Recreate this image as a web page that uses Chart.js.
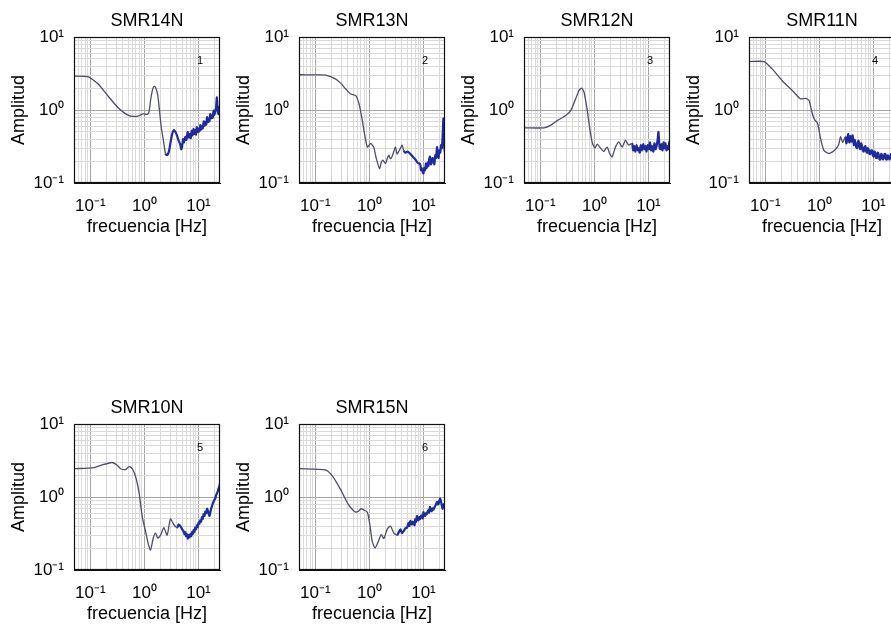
<!DOCTYPE html>
<html>
<head>
<meta charset="utf-8">
<script src="https://cdn.jsdelivr.net/npm/chart.js@4.4.1/dist/chart.umd.min.js"></script>
<style>
  html, body { margin: 0; padding: 0; background: #fff; overflow: hidden; }
  #page { position: relative; width: 891px; height: 629px; overflow: hidden; }
  #page canvas { position: absolute; }
</style>
</head>
<body>
<div id="page"></div>
<script>
// panel titles and the small index numbers in the corner
const stations = ['SMR14N', 'SMR13N', 'SMR12N', 'SMR11N', 'SMR10N', 'SMR15N'];
const panelNumbers = ['1', '2', '3', '4', '5', '6'];

// axis ticks (log-log, decades labelled)
const majorTicks = [0.1, 1, 10];
const majorLabels = ['10⁻¹', '10⁰', '10¹'];
const decades = [0.01, 0.1, 1, 10];
const mantissas = [1, 2, 3, 4, 5, 6, 7, 8, 9];
const xRange = [0.05, 25];
const yRange = [0.1, 10];

// spectra: frequency [Hz] / amplitude
const freq14 = [0.05, 0.09, 0.14, 0.21, 0.32, 0.42, 0.52, 0.62, 0.74, 0.86, 0.98, 1.13, 1.22, 1.30, 1.38, 1.46, 1.54, 1.62, 1.70, 1.78, 1.90, 2.05, 2.25, 2.45,
  2.6, 2.83, 3.05, 3.26, 3.5, 3.75, 4.0, 4.3, 4.6, 4.8, 4.97, 5.2, 5.4, 5.73, 6.0, 6.3, 6.6, 6.9, 7.2, 7.5, 7.8, 8.1, 8.4, 8.7, 9.0, 9.3, 9.7, 10, 10.4, 10.8,
  11.2, 11.6, 12.0, 12.5, 13.0, 13.4, 13.9, 14.4, 14.9, 15.4, 16.0, 16.5, 17.1, 17.7, 18.3, 19, 19.6, 20.3, 21.1, 21.9, 22.6, 23.4, 24.2, 25];
const amp14 = [2.92, 2.86, 2.27, 1.57, 1.09, 0.92, 0.84, 0.82, 0.82, 0.86, 0.89, 0.87, 0.95, 1.35, 1.75, 2.04, 2.1, 2.02, 1.8, 1.55, 1.0, 0.58, 0.38, 0.254,
  0.24, 0.267, 0.36, 0.47, 0.53, 0.50, 0.45, 0.38, 0.34, 0.29, 0.31, 0.40, 0.36, 0.43, 0.39, 0.50, 0.42, 0.47, 0.41, 0.52, 0.45, 0.55, 0.47, 0.53, 0.46, 0.58, 0.50, 0.55, 0.51, 0.62,
  0.54, 0.60, 0.56, 0.70, 0.61, 0.68, 0.63, 0.80, 0.68, 0.76, 0.70, 0.88, 0.77, 0.84, 0.78, 0.98, 0.86, 0.93, 1.05, 1.49, 1.0, 0.88, 1.1, 0.98];

const freq13 = [0.05, 0.1, 0.157, 0.24, 0.30, 0.366, 0.45, 0.56, 0.645, 0.74, 0.83, 0.92, 1.05, 1.13, 1.21, 1.34, 1.54, 1.65, 1.77, 1.99, 2.15, 2.29, 2.45, 2.63, 2.83, 3.03, 3.25, 3.49, 3.75, 4.03, 4.3, 4.63, 5.1, 5.73, 6.3, 7.08, 7.8,
  8.7, 9.0, 9.3, 9.7, 10, 10.3, 10.7, 11.1, 11.5, 11.9, 12.3, 12.7, 13.2, 13.7, 14.2, 14.7, 15.3, 15.9, 16.5, 17.1, 17.8, 18.4, 19, 19.7, 20.4, 21.1, 21.9, 22.7, 23.4, 24.2, 25];
const amp13 = [3.04, 3.02, 3.0, 2.65, 2.3, 1.94, 1.66, 1.57, 1.21, 0.72, 0.43, 0.31, 0.35, 0.33, 0.31, 0.217, 0.158, 0.19, 0.206, 0.185, 0.22, 0.24, 0.215, 0.23, 0.27, 0.31, 0.25, 0.27, 0.30, 0.33, 0.28, 0.26, 0.27, 0.25, 0.23, 0.21, 0.19,
  0.18, 0.15, 0.16, 0.14, 0.135, 0.16, 0.15, 0.185, 0.16, 0.19, 0.17, 0.21, 0.23, 0.18, 0.19, 0.22, 0.21, 0.18, 0.24, 0.22, 0.31, 0.24, 0.22, 0.28, 0.26, 0.33, 0.3, 0.47, 0.76, 0.32, 0.26];

const freq12 = [0.05, 0.118, 0.157, 0.208, 0.296, 0.366, 0.45, 0.52, 0.58, 0.645, 0.74, 0.83, 0.92, 1.02, 1.13, 1.30, 1.49, 1.72, 1.93, 2.13, 2.45, 2.83, 3.26, 3.75, 4.31,
  4.97, 5.2, 5.45, 5.73, 6.0, 6.3, 6.6, 6.9, 7.2, 7.6, 8.0, 8.4, 8.8, 9.2, 9.7, 10.2, 10.7, 11.2, 11.7, 12.3, 12.9, 13.5, 14.2, 14.8, 15.3, 16.0, 16.7, 17.4, 18.2, 19, 19.8, 20.6, 21.5, 22.4, 23.4, 24.2, 25];
const amp12 = [0.57, 0.57, 0.62, 0.72, 0.84, 0.98, 1.42, 1.84, 2.0, 1.75, 0.98, 0.53, 0.35, 0.30, 0.34, 0.30, 0.27, 0.31, 0.25, 0.228, 0.31, 0.365, 0.31, 0.385, 0.33,
  0.35, 0.28, 0.32, 0.27, 0.33, 0.28, 0.30, 0.26, 0.33, 0.28, 0.34, 0.29, 0.32, 0.27, 0.33, 0.29, 0.36, 0.28, 0.32, 0.27, 0.35, 0.29, 0.33, 0.40, 0.50, 0.31, 0.29, 0.34, 0.28, 0.36, 0.30, 0.35, 0.28, 0.32, 0.29, 0.36, 0.385];

const freq11 = [0.05, 0.095, 0.136, 0.208, 0.318, 0.45, 0.56, 0.645, 0.74, 0.83, 0.92, 1.05, 1.21, 1.49, 1.72, 1.99, 2.29, 2.45, 2.7,
  3.03, 3.15, 3.25, 3.4, 3.5, 3.6, 3.75, 3.85, 3.95, 4.1, 4.25, 4.35, 4.5, 4.63, 4.8, 5.0, 5.15, 5.3, 5.5, 5.7, 5.9, 6.1, 6.35, 6.6, 6.85, 7.08, 7.35, 7.6, 7.85, 8.1,
  8.4, 8.7, 9.0, 9.4, 9.7, 10.1, 10.4, 10.8, 11.2, 11.6, 12.0, 12.4, 12.9, 13.4, 13.9, 14.4, 15.0, 15.5, 16.0, 16.6, 17.2, 17.8, 18.4, 19, 19.7, 20.4, 21.1, 21.9, 22.6, 23.4, 24.2, 25];
const amp11 = [4.6, 4.6, 3.6, 2.5, 1.84, 1.42, 1.44, 1.35, 0.89, 0.72, 0.67, 0.41, 0.28, 0.254, 0.265, 0.29, 0.34, 0.43, 0.36,
  0.43, 0.35, 0.38, 0.47, 0.39, 0.36, 0.44, 0.40, 0.37, 0.45, 0.38, 0.33, 0.39, 0.36, 0.31, 0.30, 0.36, 0.38, 0.32, 0.29, 0.35, 0.33, 0.28, 0.27, 0.31, 0.32, 0.27, 0.26, 0.30, 0.29,
  0.25, 0.25, 0.28, 0.28, 0.24, 0.23, 0.27, 0.26, 0.22, 0.22, 0.26, 0.25, 0.21, 0.21, 0.25, 0.24, 0.21, 0.22, 0.25, 0.25, 0.21, 0.21, 0.24, 0.23, 0.21, 0.22, 0.25, 0.24, 0.21, 0.21, 0.24, 0.23];

const freq10 = [0.05, 0.118, 0.157, 0.25, 0.30, 0.366, 0.45, 0.52, 0.60, 0.70, 0.80, 0.92, 1.05, 1.17, 1.30, 1.46, 1.61, 1.77, 1.99, 2.29, 2.63, 3.03, 3.49,
  4.03, 4.3, 4.63, 5.0, 5.3, 5.5, 5.7, 5.9, 6.1, 6.35, 6.6, 6.85, 7.08, 7.35, 7.6, 7.85, 8.1, 8.4, 8.7, 9.0, 9.4, 9.7, 10.1, 10.4, 10.8, 11.2, 11.6, 12.0, 12.4, 12.9,
  13.4, 13.9, 14.4, 15.0, 15.5, 16.0, 16.6, 17.2, 17.8, 18.4, 19, 19.7, 20.4, 21.1, 21.9, 22.6, 23.4, 24.2, 25];
const amp10 = [2.44, 2.53, 2.72, 2.97, 2.8, 2.44, 2.38, 2.61, 2.44, 1.82, 1.12, 0.52, 0.34, 0.233, 0.187, 0.274, 0.32, 0.274, 0.30, 0.38, 0.30, 0.50, 0.42,
  0.38, 0.42, 0.40, 0.36, 0.34, 0.31, 0.33, 0.29, 0.31, 0.27, 0.30, 0.28, 0.31, 0.29, 0.33, 0.31, 0.35, 0.33, 0.38, 0.36, 0.41, 0.39, 0.45, 0.43, 0.48, 0.46, 0.53, 0.50, 0.58, 0.55,
  0.63, 0.60, 0.69, 0.64, 0.58, 0.55, 0.62, 0.70, 0.75, 0.82, 0.86, 0.92, 0.95, 1.05, 1.12, 1.18, 1.30, 1.38, 1.55];

const freq15 = [0.05, 0.157, 0.208, 0.296, 0.40, 0.48, 0.56, 0.63, 0.70, 0.80, 0.92, 1.02, 1.13, 1.27, 1.46, 1.65, 1.85, 2.13, 2.45, 2.83,
  3.26, 3.5, 3.75, 4.0, 4.31, 4.6, 4.97, 5.3, 5.5, 5.73, 6.1, 6.35, 6.6, 6.85, 7.08, 7.35, 7.6, 7.85, 8.1, 8.4, 8.7, 9.0, 9.3, 9.7, 10, 10.4, 10.7, 11.1, 11.5, 11.9,
  12.3, 12.7, 13.2, 13.7, 14.2, 14.7, 15.3, 15.9, 16.5, 17.1, 17.8, 18.4, 19, 19.7, 20.4, 21.4, 22.5, 23.7, 25];
const amp15 = [2.44, 2.34, 1.93, 1.25, 0.81, 0.68, 0.62, 0.64, 0.69, 0.66, 0.62, 0.42, 0.245, 0.20, 0.245, 0.305, 0.27, 0.36, 0.40, 0.32,
  0.30, 0.33, 0.36, 0.32, 0.34, 0.37, 0.38, 0.44, 0.40, 0.47, 0.42, 0.46, 0.45, 0.41, 0.50, 0.46, 0.55, 0.49, 0.48, 0.53, 0.50, 0.55, 0.56, 0.51, 0.62, 0.56, 0.55, 0.60, 0.58, 0.63,
  0.66, 0.61, 0.73, 0.66, 0.64, 0.70, 0.67, 0.72, 0.75, 0.80, 0.86, 0.79, 0.80, 0.90, 0.95, 0.82, 0.69, 0.80, 0.76];

const freqs = [freq14, freq13, freq12, freq11, freq10, freq15];
const amps = [amp14, amp13, amp12, amp11, amp10, amp15];
// frequency above which the trace turns into the dense blue band
const splitFreqs = [2.4, 4.3, 4.9, 3.0, 3.9, 3.2];

const FONT = '"Liberation Sans", Arial, sans-serif';
const SMOOTH_COLOR = '#4c4f66';
const NOISY_COLOR = '#1f2a9c';

function gridValues(range) {
  const vals = [];
  decades.forEach(d => mantissas.forEach(m => vals.push(+(d * m).toPrecision(6))));
  return vals.filter(v => v >= range[0] * 0.9999 && v <= range[1] * 1.0001);
}

function majorIndex(v) {
  return majorTicks.findIndex(t => Math.abs(t - v) < 1e-9);
}

function logAxis(range, title, isX) {
  return {
    type: 'logarithmic',
    min: range[0],
    max: range[1],
    afterBuildTicks: axis => {
      axis.ticks = gridValues(range).map(v => ({ value: v }));
    },
    afterFit: axis => {
      // fixed plot box: 74..220 x 37..183 inside each canvas
      if (isX) {
        axis.height = 67;
        axis.paddingLeft = 0;
        axis.paddingRight = 0;
      } else {
        axis.width = 74;
        axis.paddingTop = 0;
        axis.paddingBottom = 0;
      }
    },
    ticks: {
      autoSkip: false,
      maxRotation: 0,
      minRotation: 0,
      padding: isX ? 13 : 10,
      color: '#000',
      font: { family: FONT, size: 17 },
      callback: value => {
        const i = majorIndex(value);
        return i >= 0 ? majorLabels[i] : '';
      }
    },
    grid: {
      drawTicks: false,
      lineWidth: 1,
      color: ctx => (ctx.tick && majorIndex(ctx.tick.value) >= 0) ? '#a4a4a4' : '#dadada'
    },
    border: { display: true, color: '#111', width: 1 },
    title: {
      display: true,
      text: title,
      color: '#000',
      font: { family: FONT, size: 18 },
      padding: isX ? { top: 0, bottom: 12 } : { top: 8, bottom: 0 }
    }
  };
}

// title above each panel, frame around the plot, index number
const panelDecor = {
  id: 'panelDecor',
  afterDraw(chart, args, opts) {
    const { ctx, chartArea: a } = chart;
    ctx.save();
    ctx.strokeStyle = '#111';
    ctx.lineWidth = 1.2;
    ctx.strokeRect(Math.round(a.left) + 0.5, Math.round(a.top) + 0.5,
      Math.round(a.right - a.left) - 1, Math.round(a.bottom - a.top) - 1);
    ctx.fillStyle = '#000';
    ctx.textAlign = 'center';
    ctx.textBaseline = 'middle';
    ctx.font = '18px ' + FONT;
    ctx.fillText(opts.title, (a.left + a.right) / 2, 21);
    ctx.font = '11px ' + FONT;
    ctx.fillText(opts.number, a.right - 20, a.top + 24);
    ctx.restore();
  }
};

const page = document.getElementById('page');

stations.forEach((name, i) => {
  const col = i % 4;
  const row = Math.floor(i / 4);
  const canvas = document.createElement('canvas');
  canvas.width = 225;
  canvas.height = 250;
  canvas.style.left = (col * 225) + 'px';
  canvas.style.top = (row * 387) + 'px';
  page.appendChild(canvas);

  const split = splitFreqs[i];
  const points = freqs[i].map((f, k) => ({ x: f, y: amps[i][k] }));

  new Chart(canvas.getContext('2d'), {
    type: 'line',
    data: {
      datasets: [{
        label: name,
        data: points,
        borderWidth: 1.4,
        borderColor: SMOOTH_COLOR,
        pointRadius: 0,
        tension: 0.2,
        segment: {
          borderColor: ctx => ctx.p0.parsed.x >= split ? NOISY_COLOR : SMOOTH_COLOR,
          borderWidth: ctx => ctx.p0.parsed.x >= split ? 2.2 : 1.3
        }
      }]
    },
    options: {
      responsive: false,
      animation: false,
      layout: { padding: { top: 37, right: 5, left: 0, bottom: 0 } },
      scales: {
        x: logAxis(xRange, 'frecuencia [Hz]', true),
        y: logAxis(yRange, 'Amplitud', false)
      },
      plugins: {
        legend: { display: false },
        tooltip: { enabled: false },
        panelDecor: { title: name, number: panelNumbers[i] }
      }
    },
    plugins: [panelDecor]
  });
});
</script>
</body>
</html>
